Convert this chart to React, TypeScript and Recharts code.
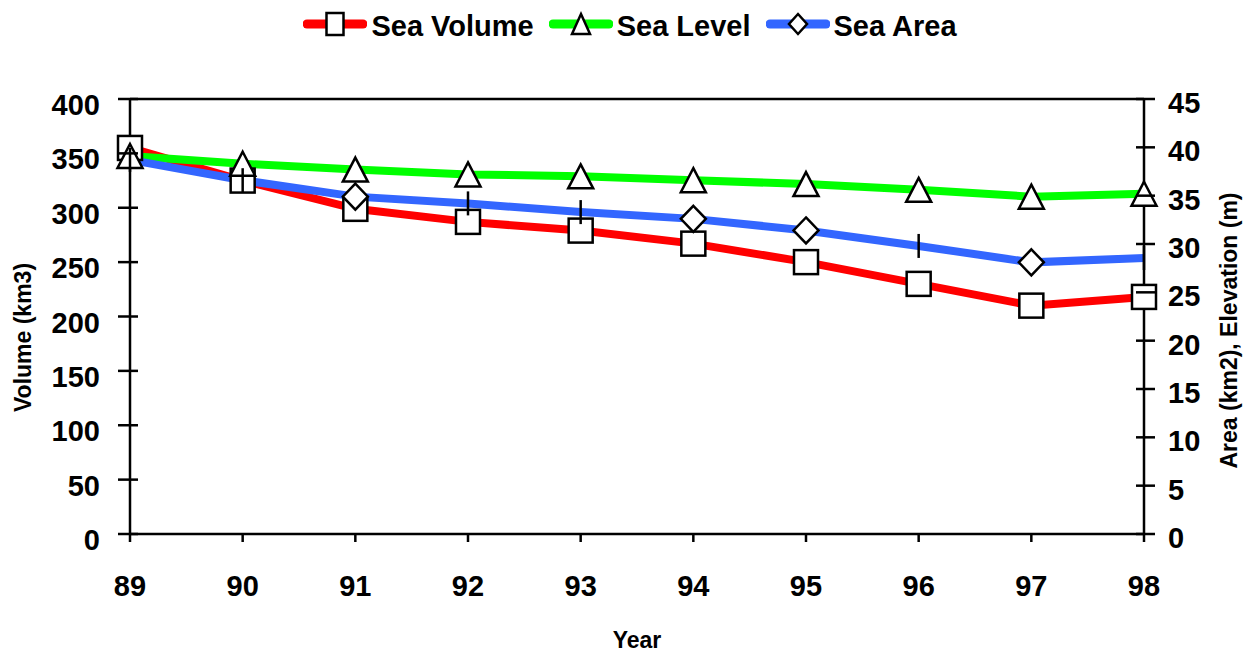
import { LineChart, Line, XAxis, YAxis, Legend, ReferenceLine, Label } from "recharts";

const years = ["89", "90", "91", "92", "93", "94", "95", "96", "97", "98"];
const seaVolume = [355, 325, 299, 287, 279, 267, 250, 230, 210, 218];
const seaLevel = [39.1, 38.3, 37.7, 37.2, 37.0, 36.6, 36.2, 35.6, 34.9, 35.2];
const seaArea = [38.7, 36.6, 34.9, 34.2, 33.3, 32.6, 31.4, 29.8, 28.1, 28.55];
// years where the Sea Area diamond did not render (only a thin stroke shows)
const areaNoMarker = ["89", "90", "92", "93", "96", "98"];

const volumeTicks = [0, 50, 100, 150, 200, 250, 300, 350, 400];
const rightTicks = [0, 5, 10, 15, 20, 25, 30, 35, 40, 45];

const data = years.map((year, i) => ({
  year,
  volume: seaVolume[i],
  level: seaLevel[i],
  area: seaArea[i],
}));

const FONT = '"Liberation Sans", Arial, sans-serif';
const RED = "#ff0000";
const GREEN = "#00ff00";
const BLUE = "#3366ff";

const series = [
  { key: "volume", name: "Sea Volume", color: RED, shape: "square" },
  { key: "level", name: "Sea Level", color: GREEN, shape: "triangle" },
  { key: "area", name: "Sea Area", color: BLUE, shape: "diamond" },
];

function Marker({ shape, cx, cy, w = 24, h = 24 }: { shape: string; cx: number; cy: number; w?: number; h?: number }) {
  const common = { fill: "#fff", stroke: "#000", strokeWidth: 2.5 };
  if (shape === "square") {
    return <rect x={cx - w / 2} y={cy - h / 2} width={w} height={h} {...common} />;
  }
  if (shape === "triangle") {
    return (
      <polygon
        points={`${cx},${cy - h / 2} ${cx + w / 2},${cy + h / 2} ${cx - w / 2},${cy + h / 2}`}
        {...common}
      />
    );
  }
  if (shape === "diamond") {
    return (
      <polygon
        points={`${cx},${cy - h / 2} ${cx + w / 2},${cy} ${cx},${cy + h / 2} ${cx - w / 2},${cy}`}
        {...common}
      />
    );
  }
  return null;
}

function makeDot(shape: string) {
  // eslint-disable-next-line @typescript-eslint/no-explicit-any
  return (props: any) => {
    const { cx, cy, index, payload } = props;
    if (cx == null || cy == null) return <g key={index} />;
    if (shape === "diamond" && areaNoMarker.includes(payload.year)) {
      return <line key={index} x1={cx} x2={cx} y1={cy - 12} y2={cy + 12} stroke="#000" strokeWidth={2.5} />;
    }
    const h = shape === "diamond" ? 26 : 24;
    const w = shape === "square" ? 24 : 25;
    return (
      <g key={index}>
        <Marker shape={shape} cx={cx} cy={cy} w={w} h={h} />
      </g>
    );
  };
}

function LegendContent() {
  return (
    <div
      style={{
        display: "flex",
        justifyContent: "center",
        alignItems: "center",
        fontFamily: FONT,
        fontWeight: "bold",
        fontSize: 29,
        color: "#000",
        width: 1260,
        height: 36,
      }}
    >
      {series.map((s, i) => (
        <div key={s.key} style={{ display: "flex", alignItems: "center", marginLeft: i === 0 ? 0 : 15 }}>
          <svg width={64} height={36} style={{ display: "block" }}>
            <line x1={4} x2={60} y1={16} y2={16} stroke={s.color} strokeWidth={9} strokeLinecap="round" />
            <Marker shape={s.shape} cx={32} cy={16} w={s.shape === "square" ? 17 : 18} h={s.shape === "square" ? 22 : 20} />
          </svg>
          <span style={{ marginLeft: 4, lineHeight: "36px" }}>{s.name}</span>
        </div>
      ))}
    </div>
  );
}

const textStyle = { fontFamily: FONT, fontWeight: "bold" as const, fill: "#000" };

// eslint-disable-next-line @typescript-eslint/no-explicit-any
function LeftTick(props: any) {
  const { x, y, payload } = props;
  const ax = x + 30;
  return (
    <g>
      <line x1={ax - 12} x2={ax + 8} y1={y} y2={y} stroke="#000" strokeWidth={2.5} />
      <text x={x} y={y + 6} textAnchor="end" dominantBaseline="central" fontSize={29} {...textStyle}>
        {payload.value}
      </text>
    </g>
  );
}

// eslint-disable-next-line @typescript-eslint/no-explicit-any
function RightTick(props: any) {
  const { x, y, payload } = props;
  const ax = x - 24;
  return (
    <g>
      <line x1={ax - 8} x2={ax + 11} y1={y} y2={y} stroke="#000" strokeWidth={2.5} />
      <text x={x} y={y + 4} textAnchor="start" dominantBaseline="central" fontSize={29} {...textStyle}>
        {payload.value}
      </text>
    </g>
  );
}

// eslint-disable-next-line @typescript-eslint/no-explicit-any
function BottomTick(props: any) {
  const { x, y, payload } = props;
  const ay = y - 10;
  return (
    <g>
      <line x1={x} x2={x} y1={ay} y2={ay + 8} stroke="#000" strokeWidth={2.5} />
      <text x={x} y={ay + 52} textAnchor="middle" dominantBaseline="central" fontSize={29} {...textStyle}>
        {payload.value}
      </text>
    </g>
  );
}

export default function App() {
  return (
    <div style={{ position: "absolute", left: 0, top: 0, width: 1260, height: 655, background: "#fff" }}>
      <LineChart width={1260} height={655} data={data} margin={{ top: 99, right: 0, bottom: 0, left: 0 }}>
        <XAxis
          dataKey="year"
          height={121}
          interval={0}
          tickSize={10}
          tickMargin={0}
          tickLine={false}
          tick={<BottomTick />}
          axisLine={{ stroke: "#000", strokeWidth: 2.5 }}
        >
          <Label
            // eslint-disable-next-line @typescript-eslint/no-explicit-any
            content={(p: any) => {
              const vb = p.viewBox;
              return (
                <text x={vb.x + vb.width / 2} y={vb.y + 106} textAnchor="middle" dominantBaseline="central" fontSize={23} {...textStyle}>
                  Year
                </text>
              );
            }}
          />
        </XAxis>
        <YAxis
          yAxisId="left"
          orientation="left"
          width={130}
          domain={[0, 400]}
          ticks={volumeTicks}
          interval={0}
          tickSize={10}
          tickMargin={20}
          tickLine={false}
          tick={<LeftTick />}
          axisLine={{ stroke: "#000", strokeWidth: 2.5 }}
        >
          <Label
            // eslint-disable-next-line @typescript-eslint/no-explicit-any
            content={(p: any) => {
              const vb = p.viewBox;
              const cx = vb.x + 23;
              const cy = vb.y + vb.height / 2 + 21;
              return (
                <text x={cx} y={cy} transform={`rotate(-90 ${cx} ${cy})`} textAnchor="middle" dominantBaseline="central" fontSize={23} {...textStyle}>
                  Volume (km3)
                </text>
              );
            }}
          />
        </YAxis>
        <YAxis
          yAxisId="right"
          orientation="right"
          width={116}
          domain={[0, 45]}
          ticks={rightTicks}
          interval={0}
          tickSize={10}
          tickMargin={14}
          tickLine={false}
          tick={<RightTick />}
          axisLine={{ stroke: "#000", strokeWidth: 2.5 }}
        >
          <Label
            // eslint-disable-next-line @typescript-eslint/no-explicit-any
            content={(p: any) => {
              const vb = p.viewBox;
              const cx = vb.x + 85;
              const cy = vb.y + vb.height / 2 + 14;
              return (
                <text x={cx} y={cy} transform={`rotate(-90 ${cx} ${cy})`} textAnchor="middle" dominantBaseline="central" fontSize={23} {...textStyle}>
                  Area (km2), Elevation (m)
                </text>
              );
            }}
          />
        </YAxis>
        <ReferenceLine yAxisId="left" y={400} stroke="#000" strokeWidth={2.5} />
        <Legend
          layout="vertical"
          align="center"
          verticalAlign="middle"
          wrapperStyle={{ top: 8, left: 0, width: 1260 }}
          content={<LegendContent />}
        />

        {/* lines first, markers on top of all lines */}
        <Line yAxisId="left" type="linear" dataKey="volume" stroke={RED} strokeWidth={8} dot={false} activeDot={false} isAnimationActive={false} />
        <Line yAxisId="right" type="linear" dataKey="level" stroke={GREEN} strokeWidth={8} dot={false} activeDot={false} isAnimationActive={false} />
        <Line yAxisId="right" type="linear" dataKey="area" stroke={BLUE} strokeWidth={8} dot={false} activeDot={false} isAnimationActive={false} />

        <Line yAxisId="left" type="linear" dataKey="volume" stroke="none" strokeWidth={0} dot={makeDot("square")} activeDot={false} legendType="none" isAnimationActive={false} />
        <Line yAxisId="right" type="linear" dataKey="level" stroke="none" strokeWidth={0} dot={makeDot("triangle")} activeDot={false} legendType="none" isAnimationActive={false} />
        <Line yAxisId="right" type="linear" dataKey="area" stroke="none" strokeWidth={0} dot={makeDot("diamond")} activeDot={false} legendType="none" isAnimationActive={false} />
      </LineChart>
    </div>
  );
}
